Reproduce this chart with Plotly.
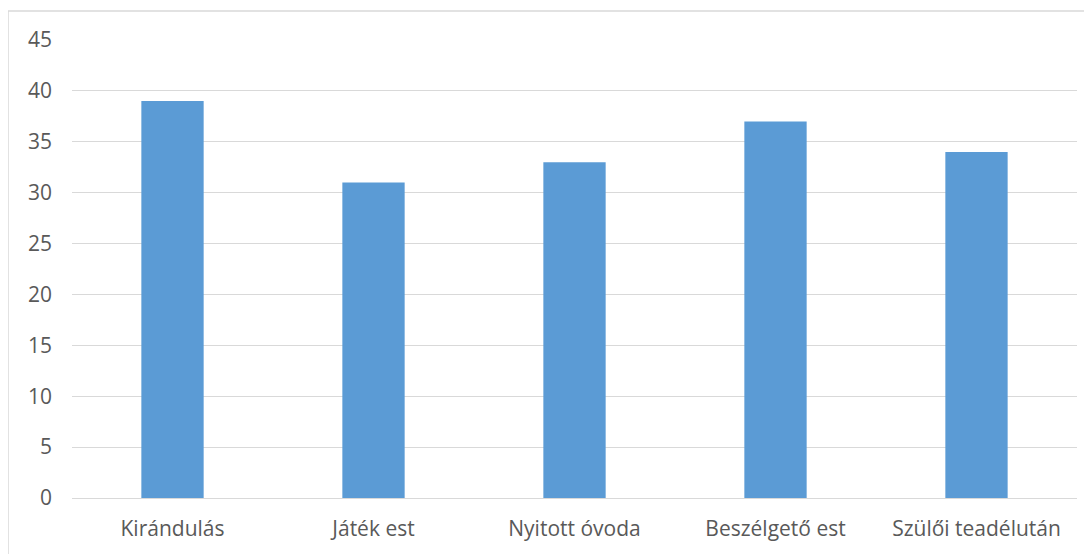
import plotly.graph_objects as go

categories = ["Kirándulás", "Játék est", "Nyitott óvoda", "Beszélgető est", "Szülői teadélután"]
values = [39, 31, 33, 37, 34]
y_ticks = [0, 5, 10, 15, 20, 25, 30, 35, 40, 45]

# page body has an 8px margin, so the figure starts at (8, 8)
OFF = 8
W, H = 1092 - OFF, 554 - OFF
L, R, T, B = 72 - OFF, 15, 40 - OFF, 56
pw = W - L - R
ph = H - T - B

fig = go.Figure(go.Bar(x=categories, y=values, marker_color="#5B9BD5", marker_line_width=0))

font = dict(family="Open Sans, sans-serif", size=21, color="#595959")
fig.update_layout(
    width=W, height=H, autosize=False,
    margin=dict(l=L, r=R, t=T, b=B),
    paper_bgcolor="white", plot_bgcolor="white",
    bargap=0.69, showlegend=False,
    font=font,
    xaxis=dict(showgrid=False, ticks="", tickfont=font, ticklabelstandoff=16, showline=False),
    yaxis=dict(range=[0, 45], tickvals=y_ticks, showgrid=True, gridcolor="#D9D9D9", gridwidth=1,
               zeroline=True, zerolinecolor="#D9D9D9", zerolinewidth=1, ticks="", tickfont=font,
               ticklabelstandoff=19, showline=False),
)

bx0 = (8 - 72) / pw
by_top = (H - B - (11 - OFF)) / ph
fig.add_shape(type="line", xref="paper", yref="paper", x0=bx0, x1=(W - L) / pw + 0.01,
              y0=by_top, y1=by_top, line=dict(color="#D9D9D9", width=1.5))
fig.add_shape(type="line", xref="paper", yref="paper", x0=bx0, x1=bx0,
              y0=by_top, y1=-(B + 10) / ph, line=dict(color="#D9D9D9", width=1.5))

fig.write_html("out.html")
